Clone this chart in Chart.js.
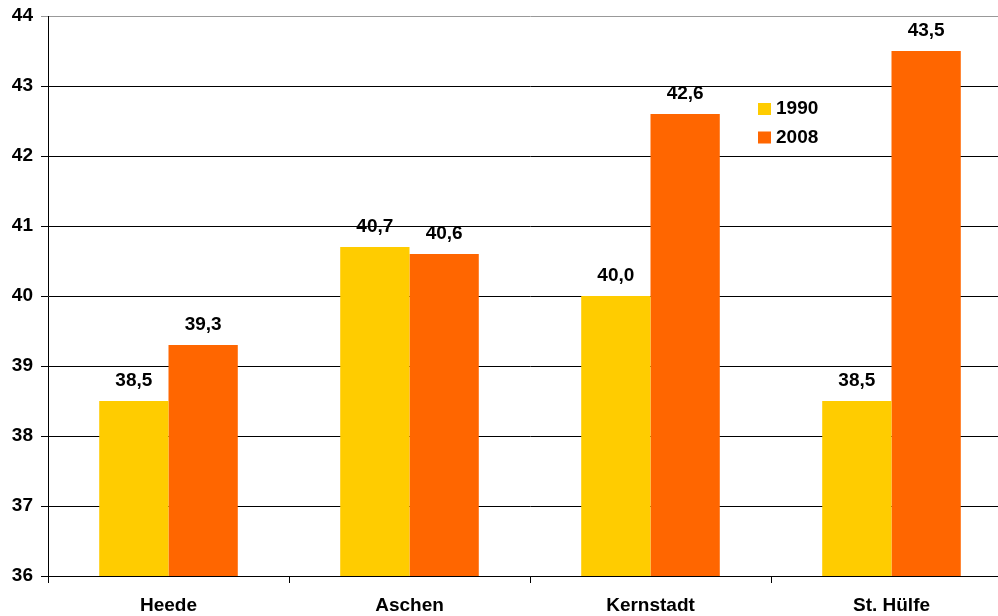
<!DOCTYPE html>
<html>
<head>
<meta charset="utf-8">
<script src="https://cdn.jsdelivr.net/npm/chart.js@4/dist/chart.umd.min.js"></script>
<style>
html,body{margin:0;padding:0;background:#fff;overflow:hidden;}
#wrap{width:998px;height:616px;position:relative;overflow:hidden;}
canvas{display:block;}
</style>
</head>
<body>
<div id="wrap"><canvas id="c" width="1012" height="616"></canvas></div>
<script>
const categories = ['Heede', 'Aschen', 'Kernstadt', 'St. Hülfe'];
const seriesNames = ['1990', '2008'];
const values1990 = [38.5, 40.7, 40.0, 38.5];
const values2008 = [39.3, 40.6, 42.6, 43.5];
const yTicks = [36, 37, 38, 39, 40, 41, 42, 43, 44];
const colors = ['#FFCC00', '#FF6600'];

const FONT = '"Liberation Sans", Arial, sans-serif';
const FSIZE = 19;

const valueLabels = {
  id: 'valueLabels',
  afterDatasetsDraw(chart) {
    const ctx = chart.ctx;
    ctx.save();
    ctx.font = 'bold ' + FSIZE + 'px ' + FONT;
    ctx.fillStyle = '#000';
    ctx.textAlign = 'center';
    ctx.textBaseline = 'middle';
    chart.data.datasets.forEach((ds, i) => {
      chart.getDatasetMeta(i).data.forEach((bar, j) => {
        const txt = ds.data[j].toFixed(1).replace('.', ',');
        ctx.fillText(txt, bar.x, bar.y - 20);
      });
    });
    ctx.restore();
  }
};

const customLegend = {
  id: 'customLegend',
  afterDraw(chart) {
    const ctx = chart.ctx;
    ctx.save();
    ctx.font = 'bold ' + FSIZE + 'px ' + FONT;
    ctx.textBaseline = 'middle';
    ctx.textAlign = 'left';
    chart.data.datasets.forEach((ds, i) => {
      const y = 109 + i * 28.5;
      ctx.fillStyle = ds.backgroundColor;
      ctx.fillRect(758, y - 6, 13, 12);
      ctx.fillStyle = '#000';
      ctx.fillText(ds.label, 776, y);
    });
    ctx.restore();
  }
};

new Chart(document.getElementById('c'), {
  type: 'bar',
  data: {
    labels: categories,
    datasets: [
      { label: seriesNames[0], data: values1990, backgroundColor: colors[0] },
      { label: seriesNames[1], data: values2008, backgroundColor: colors[1] }
    ]
  },
  options: {
    responsive: false,
    animation: false,
    devicePixelRatio: 1,
    layout: { padding: { top: 16, right: 0, left: 0, bottom: 0 } },
    datasets: { bar: { categoryPercentage: 0.575, barPercentage: 1.0 } },
    plugins: {
      legend: { display: false },
      tooltip: { enabled: false }
    },
    scales: {
      x: {
        grid: {
          offset: true,
          drawOnChartArea: false,
          color: '#000',
          tickLength: 7,
          tickColor: '#000'
        },
        border: { color: '#000', width: 1 },
        ticks: {
          color: '#000',
          font: { family: FONT, size: FSIZE, weight: 'bold' },
          padding: 11,
          maxRotation: 0
        },
        afterFit(scale) { scale.height = 40; scale.paddingLeft = 0; scale.paddingRight = 0; }
      },
      y: {
        min: 36,
        max: 44,
        afterBuildTicks(scale) { scale.ticks = yTicks.map(v => ({ value: v })); },
        grid: {
          color: ctx => (ctx.tick && ctx.tick.value === 44) ? '#999' : '#000',
          tickLength: 7,
          lineWidth: 1
        },
        border: { color: '#000', width: 1 },
        ticks: {
          color: '#000',
          font: { family: FONT, size: FSIZE, weight: 'bold' },
          padding: 8
        },
        afterFit(scale) { scale.width = 48; scale.paddingTop = 0; scale.paddingBottom = 0; }
      }
    }
  },
  plugins: [valueLabels, customLegend]
});
</script>
</body>
</html>
